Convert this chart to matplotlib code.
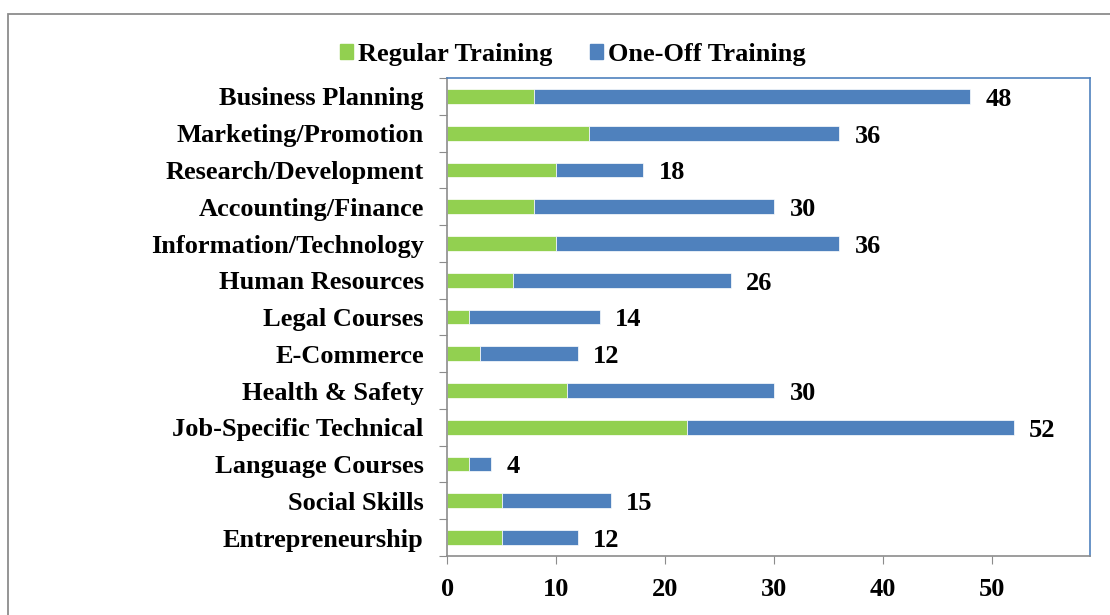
import matplotlib.pyplot as plt
from matplotlib.patches import Patch, Rectangle

plt.rcParams['font.family'] = ['Liberation Serif', 'DejaVu Serif']
plt.rcParams['font.weight'] = 'bold'

# data (top to bottom)
categories = ['Business Planning', 'Marketing/Promotion', 'Research/Development',
              'Accounting/Finance', 'Information/Technology', 'Human Resources',
              'Legal Courses', 'E-Commerce', 'Health & Safety', 'Job-Specific Technical',
              'Language Courses', 'Social Skills', 'Entrepreneurship']
regular = [8, 13, 10, 8, 10, 6, 2, 3, 11, 22, 2, 5, 5]
totals = [48, 36, 18, 30, 36, 26, 14, 12, 30, 52, 4, 15, 12]
one_off = [t - r for t, r in zip(totals, regular)]

green = '#92D050'
blue = '#4F81BD'

fig = plt.figure(figsize=(11.1, 6.15), dpi=100)
ax = fig.add_axes([0.403, 0.096, 0.579, 0.777])

# outer chart frame
fig.patches.append(Rectangle((0.0075, -0.05), 1.1, 1.028, transform=fig.transFigure,
                             fill=False, edgecolor='#8c8c8c', linewidth=1.3))

y = list(range(len(categories)))
ax.barh(y, regular, height=0.4, color=green, edgecolor='white', linewidth=0.5)
ax.barh(y, one_off, left=regular, height=0.4, color=blue, edgecolor='white', linewidth=0.5)

for yi, t in zip(y, totals):
    ax.annotate(str(t), xy=(t, yi), xytext=(11, -2), textcoords='offset points',
                va='center', ha='left', fontsize=19, fontweight='bold')

ax.set_ylim(len(categories) - 0.5, -0.5)
ax.set_xlim(0, 59)
ax.set_xticks(range(0, 60, 10))
ax.set_yticks([i - 0.5 for i in range(len(categories) + 1)], minor=False)
ax.set_yticklabels([])
ax.set_yticks(y, minor=True)
ax.set_yticklabels(categories, minor=True, fontsize=19, fontweight='bold')
ax.tick_params(axis='y', which='minor', length=0, pad=17)
ax.tick_params(axis='y', which='major', length=6, color='#8c8c8c', direction='out')
ax.tick_params(axis='x', length=6, color='#8c8c8c', labelsize=19, pad=10)
for lbl in ax.get_xticklabels():
    lbl.set_fontweight('bold')

ax.spines['left'].set_color('#8c8c8c')
ax.spines['bottom'].set_color('#8c8c8c')
ax.spines['top'].set_color(blue)
ax.spines['right'].set_color(blue)
for s in ax.spines.values():
    s.set_linewidth(1.2)

handles = [Patch(color=green, label='Regular Training'),
           Patch(color=blue, label='One-Off Training')]
fig.legend(handles=handles, loc='center', bbox_to_anchor=(0.516, 0.912), ncol=2,
           frameon=False, handlelength=0.5, handleheight=0.5,
           handletextpad=0.2, columnspacing=1.4, prop={'weight': 'bold', 'size': 19})

fig.savefig('out.png', dpi=100)
